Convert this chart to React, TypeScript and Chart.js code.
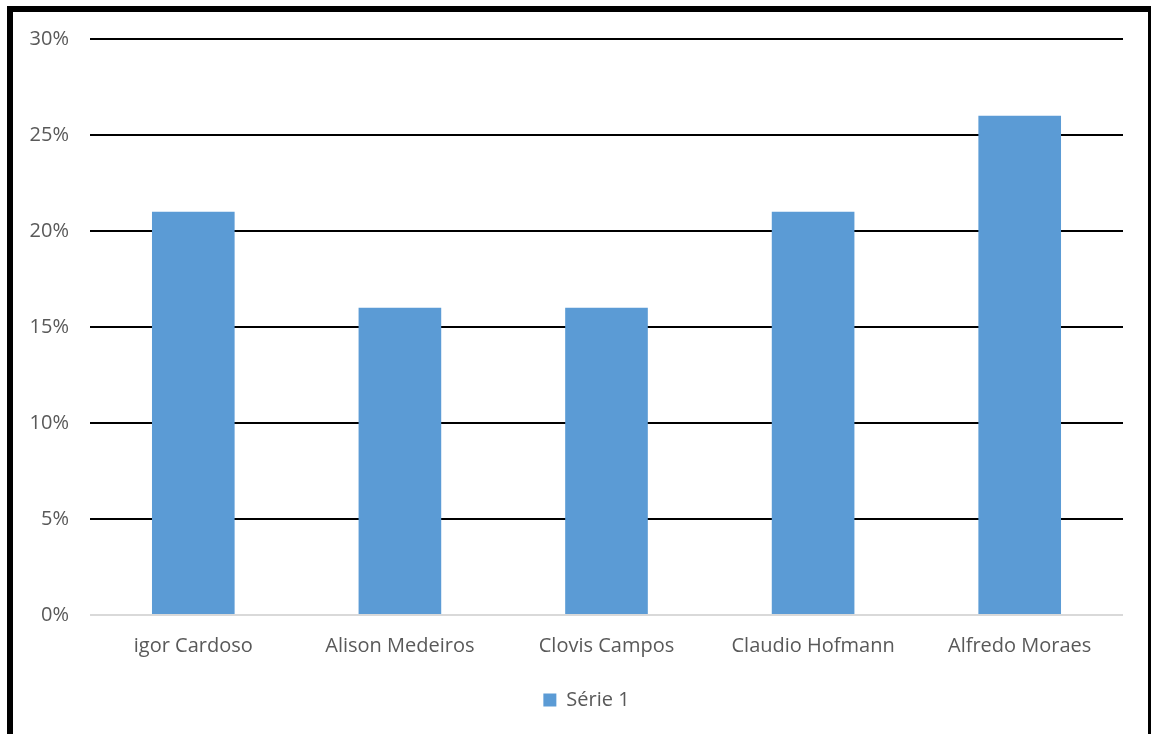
import React, { useEffect, useRef } from "react";
import { Chart, registerables } from "chart.js";

Chart.register(...registerables);

const categories = ["igor Cardoso", "Alison Medeiros", "Clovis Campos", "Claudio Hofmann", "Alfredo Moraes"];
const serieName = "Série 1";
const serieValues = [21, 16, 16, 21, 26];
const yMax = 30;
const yStep = 5;

const FONT = "'Open Sans', 'Noto Sans', sans-serif";
const TEXT = "#595959";

const legendShift = {
  id: "legendShift",
  afterLayout(chart: any) {
    if (chart.legend) {
      chart.legend.left = 50;
    }
  },
};

export default function App() {
  const ref = useRef<HTMLCanvasElement | null>(null);

  useEffect(() => {
    if (!ref.current) return;
    const chart = new Chart(ref.current, {
      type: "bar",
      data: {
        labels: categories,
        datasets: [
          {
            label: serieName,
            data: serieValues,
            backgroundColor: "#5b9bd5",
            borderWidth: 0,
            categoryPercentage: 0.8,
            barPercentage: 0.5,
          },
        ],
      },
      plugins: [legendShift],
      options: {
        responsive: false,
        animation: false,
        layout: { padding: { left: 0, right: 29, top: 39, bottom: 14 } },
        plugins: {
          legend: {
            position: "bottom",
            labels: {
              boxWidth: 13,
              boxHeight: 13,
              color: TEXT,
              font: { family: FONT, size: 20 },
              padding: 10,
            },
          },
          tooltip: { enabled: false },
          title: { display: false },
        },
        scales: {
          x: {
            grid: { display: false, drawTicks: false },
            border: { display: false },
            ticks: { color: TEXT, font: { family: FONT, size: 20 }, padding: 19, maxRotation: 0 },
            afterFit: (s: any) => {
              s.height = 65;
            },
          },
          y: {
            min: 0,
            max: yMax,
            border: { display: false },
            grid: {
              drawTicks: false,
              color: (ctx: any) => (ctx.tick && ctx.tick.value === 0 ? "#d9d9d9" : "#000000"),
              lineWidth: 2,
            },
            ticks: {
              stepSize: yStep,
              color: TEXT,
              padding: 21,
              font: { family: FONT, size: 20 },
              callback: (v: any) => `${v}%`,
            },
            afterFit: (s: any) => {
              s.width = 90;
            },
          },
        },
      },
    });
    return () => chart.destroy();
  }, []);

  return (
    <div style={{ position: "absolute", left: 0, top: 0, width: 1152, height: 734, background: "#fff", overflow: "hidden" }}>
      <canvas ref={ref} width={1152} height={734} style={{ position: "absolute", left: 0, top: 0 }} />
      <div
        style={{
          position: "absolute",
          left: 7,
          top: 6,
          width: 1135,
          height: 800,
          borderTop: "6px solid #000",
          borderLeft: "6px solid #000",
          borderRight: "3px solid #000",
          pointerEvents: "none",
        }}
      />
    </div>
  );
}
